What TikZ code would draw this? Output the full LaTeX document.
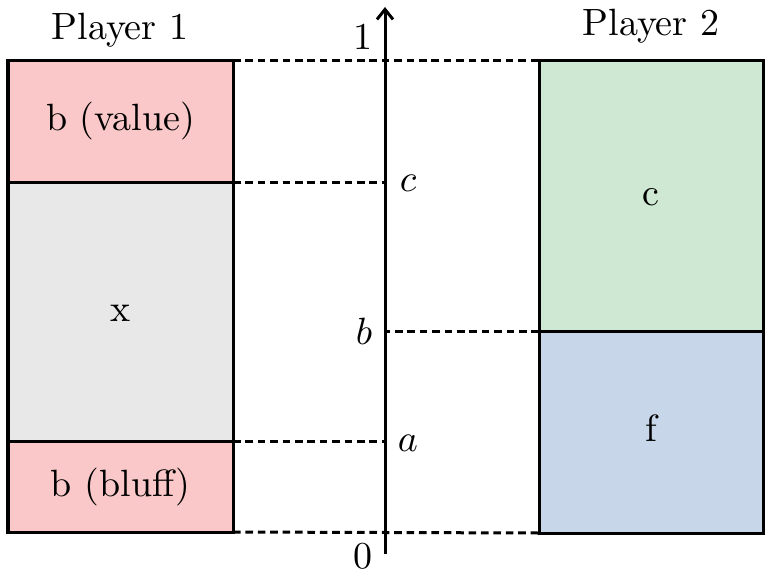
\documentclass[tikz,border=0pt]{standalone}
\usetikzlibrary{arrows.meta}
\definecolor{pinkc}{RGB}{250,200,200}
\definecolor{greyc}{RGB}{232,232,232}
\definecolor{greenc}{RGB}{206,232,211}
\definecolor{bluec}{RGB}{199,214,232}
\tikzset{
  seg/.style={draw=black, line width=1.5pt, inner sep=0pt, outer sep=0pt, anchor=north west},
  guide/.style={line width=1.5pt, dash pattern=on 3.8pt off 2.4pt},
  axisline/.style={line width=1.5pt},
  lbl/.style={font=\fontsize{10}{12}\selectfont, inner sep=0pt, scale=1.9},
  boxlbl/.style={lbl, text height=7.5pt, text depth=2.5pt}
}
\begin{document}
\begin{tikzpicture}[x=0.5pt,y=-0.5pt]
\useasboundingbox (0,0) rectangle (773,574);
% left column
\node[seg, fill=pinkc, minimum width=112.5pt, minimum height=61pt] (L1) at (8,60) {};
\node[seg, fill=greyc, minimum width=112.5pt, minimum height=129.5pt] (L2) at (8,182) {};
\node[seg, fill=pinkc, minimum width=112.5pt, minimum height=45.5pt] (L3) at (8,441) {};
\node[boxlbl] at (L1.center) {b (value)};
\node[boxlbl] at (L2.center) {x};
\node[boxlbl] at (L3.center) {b (bluff)};
% right column
\node[seg, fill=greenc, minimum width=112pt, minimum height=135.5pt] (R1) at (539,60) {};
\node[seg, fill=bluec, minimum width=112pt, minimum height=101pt] (R2) at (539,331) {};
\node[boxlbl] at (R1.center) {c};
\node[boxlbl] at (R2.center) {f};
% titles
\node[lbl, anchor=base] (P1) at (120,39) {Player 1};
\node[lbl, anchor=base] (P2) at (651,35) {Player 2};
% axis
\coordinate (ax0) at (385,554);
\coordinate (ax1) at (385,7);
\draw[guide] (L1.north east) -- (R1.north west);
\draw[guide] (L1.south east) -- (L1.south east -| ax0);
\draw[guide] (R1.south west) -- (R1.south west -| ax0);
\draw[guide] (L3.north east) -- (L3.north east -| ax0);
\draw[guide] (L3.south east) -- (R2.south west);
\draw[axisline, -{Straight Barb[length=5pt,width=8pt]}] (ax0) -- (ax1);
\node[lbl] (one) at (363,37) {1};
\node[lbl] (zero) at (363,556) {0};
\node[lbl] (lc) at (408,183) {$c$};
\node[lbl] (lb) at (364,331) {$b$};
\node[lbl] (la) at (408,443) {$a$};
\end{tikzpicture}
\end{document}
